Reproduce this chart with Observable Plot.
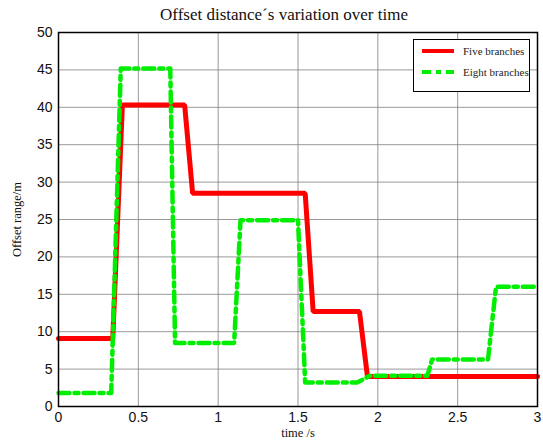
<!DOCTYPE html>
<html><head><meta charset="utf-8">
<script src="https://cdn.jsdelivr.net/npm/d3@7"></script>
<script src="https://cdn.jsdelivr.net/npm/@observablehq/plot@0.6"></script>
<style>
body{margin:0;background:#fff;}
#wrap{position:relative;width:543px;height:441px;overflow:hidden;}
#title{position:absolute;left:0;width:568px;top:5px;text-align:center;font:17px "Liberation Serif",serif;color:#111;}
#legend{position:absolute;left:413px;top:39px;width:117px;height:53px;border:1.5px solid #000;background:#fff;box-sizing:border-box;font:11px "Liberation Serif",serif;color:#222;}
.row{position:absolute;left:8px;display:flex;align-items:center;}
.row svg{margin-right:9px;}
</style></head>
<body><div id="wrap"><div id="title">Offset distance´s variation over time</div></div>
<script>
const seriesNames = ["Five branches", "Eight branches"];
const fiveT = [0, 0.34, 0.40, 0.79, 0.84, 1.545, 1.595, 1.885, 1.935, 3.0];
const fiveV = [9.1, 9.1, 40.3, 40.3, 28.5, 28.5, 12.7, 12.7, 4.0, 4.0];
const eightT = [0, 0.33, 0.39, 0.70, 0.73, 1.10, 1.14, 1.50, 1.545, 1.87, 1.95, 2.31, 2.34, 2.69, 2.74, 3.0];
const eightV = [1.8, 1.8, 45.2, 45.2, 8.5, 8.5, 24.9, 24.9, 3.2, 3.2, 4.1, 4.1, 6.3, 6.3, 16.0, 16.0];
const xTicks = [0, 0.5, 1, 1.5, 2, 2.5, 3];
const yTicks = [0, 5, 10, 15, 20, 25, 30, 35, 40, 45, 50];
const xLabel = "time /s";
const yLabel = "Offset range/m";
const colors = ["#ff0000", "#00ee00"];

const five = fiveT.map((t, i) => ({t, v: fiveV[i]}));
const eight = eightT.map((t, i) => ({t, v: eightV[i]}));

const chart = Plot.plot({
  width: 543, height: 441,
  marginLeft: 58, marginRight: 6, marginTop: 32, marginBottom: 35,
  style: {fontFamily: "'Liberation Sans', Arial, sans-serif", fontSize: "14px", color: "#111", background: "transparent", overflow: "visible"},
  x: {domain: [0, 3]},
  y: {domain: [0, 50]},
  marks: [
    Plot.gridX(xTicks, {stroke: "#777", strokeOpacity: 0.75, strokeWidth: 1}),
    Plot.gridY(yTicks, {stroke: "#777", strokeOpacity: 0.75, strokeWidth: 1}),
    Plot.line(five, {x: "t", y: "v", stroke: colors[0], strokeWidth: 5, strokeLinejoin: "miter"}),
    Plot.line(eight, {x: "t", y: "v", stroke: colors[1], strokeWidth: 4.5, strokeDasharray: "11 5 4 5"}),
    Plot.frame({stroke: "#000", strokeWidth: 1.5}),
    Plot.axisX(xTicks, {tickSize: 0, tickPadding: 6, label: null, fontSize: 14, tickFormat: d => String(d)}),
    Plot.axisY(yTicks, {tickSize: 0, tickPadding: 6, label: null, fontSize: 14, tickFormat: d => String(d)}),
    Plot.text([xLabel], {frameAnchor: "bottom", dy: 30, textAnchor: "middle", fontFamily: "'Liberation Serif', serif", fontSize: 12.5}),
    Plot.text([yLabel], {frameAnchor: "left", dx: -42, rotate: -90, textAnchor: "middle", fontFamily: "'Liberation Serif', serif", fontSize: 12.5})
  ]
});
const wrap = document.getElementById("wrap");
wrap.insertBefore(chart, wrap.firstChild);

const legend = document.createElement("div");
legend.id = "legend";
const dashes = [null, "9 5 5 5"];
seriesNames.forEach((name, i) => {
  const row = document.createElement("div");
  row.className = "row";
  row.style.top = (i === 0 ? 5 : 26) + "px";
  row.innerHTML = `<svg width="32" height="8"><line x1="0" x2="32" y1="4" y2="4" stroke="${colors[i]}" stroke-width="4" ${dashes[i] ? `stroke-dasharray="${dashes[i]}"` : ""}/></svg><span>${name}</span>`;
  legend.appendChild(row);
});
wrap.appendChild(legend);
</script>
</body></html>
